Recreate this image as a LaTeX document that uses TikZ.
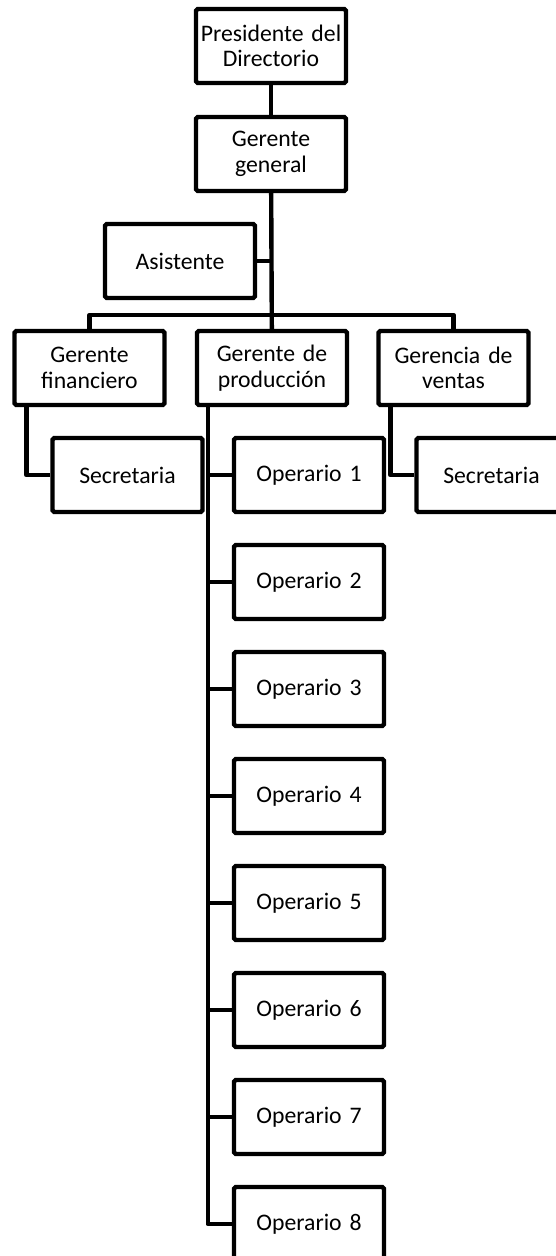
\documentclass[tikz,border=0pt]{standalone}
\usepackage{fontspec}
\setmainfont{Carlito}
\usepackage{tikz}

\begin{document}
\begin{tikzpicture}[align=center,
  cargo/.style={draw, line width=2.5pt, rounded corners=1pt, minimum width=3cm, minimum height=1.48cm,
    text width=3cm, inner sep=0pt, font=\fontsize{13.5}{14.5}\selectfont},
  enlace/.style={line width=2.5pt, line join=round}]
\useasboundingbox (0,0) rectangle (11.12,-25.12);

\node[cargo] (pres) at (5.42,-0.92) {Presidente del\\Directorio};
\node[cargo] (gg) at (5.42,-3.08) {Gerente\\general};
\node[cargo] (asis) at (3.60,-5.22) {Asistente};

\node[cargo] (gfin) at (1.79,-7.36) {Gerente\\financiero};
\node[cargo] (gprod) at (5.44,-7.36) {Gerente de\\producción};
\node[cargo] (gven) at (9.07,-7.36) {Gerencia de\\ventas};

\node[cargo] (secfin) at (2.55,-9.50) {Secretaria};
\node[cargo] (secven) at (9.83,-9.50) {Secretaria};

\foreach \i in {1,...,8}
  \node[cargo] (op\i) at (6.18,{-9.50-2.14*(\i-1)}) {Operario \i};

\coordinate (barra) at (0,-6.30);

\draw[enlace] (pres) -- (gg);
\draw[enlace] (gg) -- (gprod);
\draw[enlace] (asis.east) -- (asis.east -| gg.south);
\draw[enlace] (gfin.north) |- (barra -| gven.north) -- (gven.north);

\draw[enlace] ([xshift=0.28cm]gfin.south west) |- (secfin.west);
\draw[enlace] ([xshift=0.28cm]gven.south west) |- (secven.west);
\draw[enlace] ([xshift=0.26cm]gprod.south west) |- (op8.west);
\foreach \i in {1,...,7}
  \draw[enlace] (op\i.west) -- ++(-0.46,0);
\end{tikzpicture}
\end{document}
